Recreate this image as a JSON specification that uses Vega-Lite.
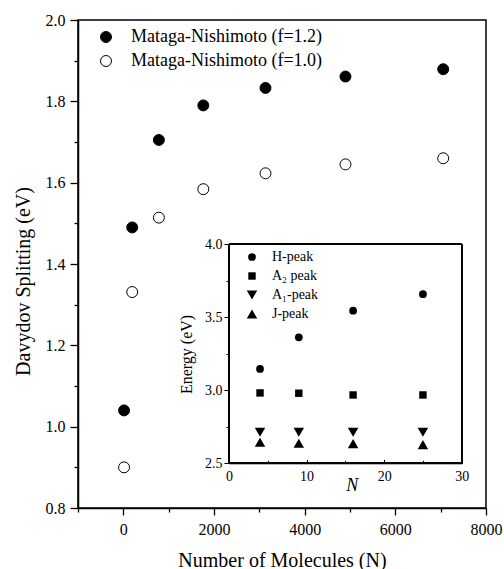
{
  "$schema": "https://vega.github.io/schema/vega-lite/v6.json",
  "width": 408,
  "height": 488,
  "autosize": "none",
  "padding": {"left": 78, "top": 20, "right": 18, "bottom": 61},
  "background": "white",
  "config": {
    "view": {"stroke": "black", "strokeWidth": 1.5},
    "axis": {
      "grid": false,
      "domainColor": "black",
      "tickColor": "black",
      "labelColor": "black",
      "titleColor": "black",
      "labelFont": "Liberation Serif",
      "titleFont": "Liberation Serif",
      "titleFontWeight": "normal"
    },
    "legend": {"labelFont": "Liberation Serif", "labelColor": "black", "labelLimit": 400}
  },
  "resolve": {
    "scale": {"x": "independent", "y": "independent", "fill": "independent", "shape": "independent", "size": "independent"},
    "axis": {"x": "independent", "y": "independent"},
    "legend": {"fill": "independent", "shape": "independent", "size": "independent"}
  },
  "layer": [
    {
      "data": {
        "values": [
          {"N": 16, "splitting": 1.04, "series": "Mataga-Nishimoto (f=1.2)"},
          {"N": 196, "splitting": 1.49, "series": "Mataga-Nishimoto (f=1.2)"},
          {"N": 784, "splitting": 1.705, "series": "Mataga-Nishimoto (f=1.2)"},
          {"N": 1764, "splitting": 1.79, "series": "Mataga-Nishimoto (f=1.2)"},
          {"N": 3136, "splitting": 1.833, "series": "Mataga-Nishimoto (f=1.2)"},
          {"N": 4900, "splitting": 1.861, "series": "Mataga-Nishimoto (f=1.2)"},
          {"N": 7056, "splitting": 1.879, "series": "Mataga-Nishimoto (f=1.2)"},
          {"N": 16, "splitting": 0.9, "series": "Mataga-Nishimoto (f=1.0)"},
          {"N": 196, "splitting": 1.331, "series": "Mataga-Nishimoto (f=1.0)"},
          {"N": 784, "splitting": 1.514, "series": "Mataga-Nishimoto (f=1.0)"},
          {"N": 1764, "splitting": 1.584, "series": "Mataga-Nishimoto (f=1.0)"},
          {"N": 3136, "splitting": 1.623, "series": "Mataga-Nishimoto (f=1.0)"},
          {"N": 4900, "splitting": 1.645, "series": "Mataga-Nishimoto (f=1.0)"},
          {"N": 7056, "splitting": 1.66, "series": "Mataga-Nishimoto (f=1.0)"}
        ]
      },
      "mark": {"type": "point", "shape": "circle", "filled": true, "stroke": "black", "strokeWidth": 1, "size": 120, "opacity": 1},
      "encoding": {
        "x": {
          "field": "N", "type": "quantitative",
          "scale": {"domain": [-1000, 8000], "nice": false, "zero": false},
          "axis": {
            "values": [-1000, 0, 1000, 2000, 3000, 4000, 5000, 6000, 7000, 8000],
            "format": "d",
            "labelExpr": "datum.value % 2000 == 0 ? datum.label : ''",
            "tickSize": {"condition": {"test": "datum.value % 2000 == 0", "value": 7}, "value": 4},
            "tickWidth": 1.3,
            "domainWidth": 1.5,
            "labelFontSize": 16,
            "labelPadding": 6,
            "labelFlush": false,
            "title": "Number of Molecules (N)",
            "titleFontSize": 20,
            "titleX": 204,
            "titleY": 58,
            "titleBaseline": "alphabetic"
          }
        },
        "y": {
          "field": "splitting", "type": "quantitative",
          "scale": {"domain": [0.8, 2.0], "nice": false, "zero": false},
          "axis": {
            "values": [0.8, 0.9, 1.0, 1.1, 1.2, 1.3, 1.4, 1.5, 1.6, 1.7, 1.8, 1.9, 2.0],
            "format": ".1f",
            "labelExpr": "abs(datum.value * 5 - round(datum.value * 5)) < 0.01 ? datum.label : ''",
            "tickSize": {"condition": {"test": "abs(datum.value * 5 - round(datum.value * 5)) < 0.01", "value": 8}, "value": 4},
            "tickWidth": 1.3,
            "domainWidth": 1.5,
            "labelFontSize": 16,
            "labelPadding": 5,
            "labelFlush": false,
            "title": "Davydov Splitting (eV)",
            "titleFontSize": 20,
            "titleX": -55,
            "titleY": 261,
            "titleBaseline": "middle"
          }
        },
        "fill": {
          "field": "series", "type": "nominal",
          "scale": {"domain": ["Mataga-Nishimoto (f=1.2)", "Mataga-Nishimoto (f=1.0)"], "range": ["black", "white"]},
          "legend": {
            "orient": "none", "legendX": 19, "legendY": 8, "title": null, "padding": 0,
            "symbolType": "circle", "symbolSize": 120, "symbolStrokeColor": "black", "symbolStrokeWidth": 1,
            "labelFontSize": 18, "labelOffset": 16, "rowPadding": 6
          }
        }
      }
    },
    {
      "data": {
        "values": [
          {"n": 4, "energy": 3.146, "peak": "H-peak"},
          {"n": 9, "energy": 3.363, "peak": "H-peak"},
          {"n": 16, "energy": 3.545, "peak": "H-peak"},
          {"n": 25, "energy": 3.658, "peak": "H-peak"},
          {"n": 4, "energy": 2.982, "peak": "A₂ peak"},
          {"n": 9, "energy": 2.98, "peak": "A₂ peak"},
          {"n": 16, "energy": 2.968, "peak": "A₂ peak"},
          {"n": 25, "energy": 2.968, "peak": "A₂ peak"},
          {"n": 4, "energy": 2.713, "peak": "A₁-peak"},
          {"n": 9, "energy": 2.713, "peak": "A₁-peak"},
          {"n": 16, "energy": 2.713, "peak": "A₁-peak"},
          {"n": 25, "energy": 2.713, "peak": "A₁-peak"},
          {"n": 4, "energy": 2.644, "peak": "J-peak"},
          {"n": 9, "energy": 2.637, "peak": "J-peak"},
          {"n": 16, "energy": 2.635, "peak": "J-peak"},
          {"n": 25, "energy": 2.628, "peak": "J-peak"}
        ]
      },
      "layer": [
        {
          "mark": {"type": "rect", "fill": null, "stroke": "black", "strokeWidth": 1},
          "encoding": {
            "x": {"datum": 0, "type": "quantitative", "scale": {"domain": [0, 30], "range": [151, 383.7], "nice": false, "zero": false},
              "axis": {
                "values": [0, 5, 10, 15, 20, 25, 30],
                "labelExpr": "datum.value % 10 == 0 ? datum.label : ''",
                "orient": "bottom", "offset": -44.7,
                "tickSize": {"condition": {"test": "datum.value % 10 == 0", "value": -4}, "value": -3},
                "labelFontSize": 14, "labelPadding": 10, "labelFlush": false,
                "title": "N", "titleFontSize": 18, "titleFontStyle": "italic",
                "titleX": 273.7, "titleY": 21.7, "titleBaseline": "middle"
              }},
            "x2": {"datum": 30},
            "y": {"datum": 2.5, "type": "quantitative", "scale": {"domain": [2.5, 4.0], "range": [443.3, 224.3], "nice": false, "zero": false},
              "axis": {
                "values": [2.5, 2.75, 3.0, 3.25, 3.5, 3.75, 4.0],
                "format": ".1f",
                "labelExpr": "abs(datum.value * 2 - round(datum.value * 2)) < 0.01 ? datum.label : ''",
                "orient": "left", "offset": -151,
                "tickSize": {"condition": {"test": "abs(datum.value * 2 - round(datum.value * 2)) < 0.01", "value": 5}, "value": 3},
                "labelFontSize": 14, "labelPadding": 2, "labelFlush": false,
                "title": "Energy (eV)", "titleFontSize": 16,
                "titleX": -42.3, "titleY": 334, "titleBaseline": "middle"
              }},
            "y2": {"datum": 4.0}
          }
        },
        {
          "mark": {"type": "point", "filled": true, "color": "black", "opacity": 1},
          "encoding": {
            "x": {"field": "n", "type": "quantitative"},
            "y": {"field": "energy", "type": "quantitative"},
            "shape": {
              "field": "peak", "type": "nominal",
              "scale": {"domain": ["H-peak", "A₂ peak", "A₁-peak", "J-peak"], "range": ["circle", "square", "triangle-down", "triangle-up"]},
              "legend": {
                "orient": "none", "legendX": 167, "legendY": 230, "title": null, "padding": 0,
                "symbolFillColor": "black", "symbolStrokeColor": "black", "symbolStrokeWidth": 0,
                "labelFontSize": 14, "labelOffset": 13, "rowPadding": 5
              }
            },
            "size": {
              "field": "peak", "type": "nominal",
              "scale": {"type": "ordinal", "domain": ["H-peak", "A₂ peak", "A₁-peak", "J-peak"], "range": [60, 55, 110, 110]},
              "legend": {
                "orient": "none", "legendX": 167, "legendY": 230, "title": null, "padding": 0,
                "symbolFillColor": "black", "symbolStrokeColor": "black", "symbolStrokeWidth": 0,
                "labelFontSize": 14, "labelOffset": 13, "rowPadding": 5
              }
            }
          }
        }
      ]
    }
  ]
}
